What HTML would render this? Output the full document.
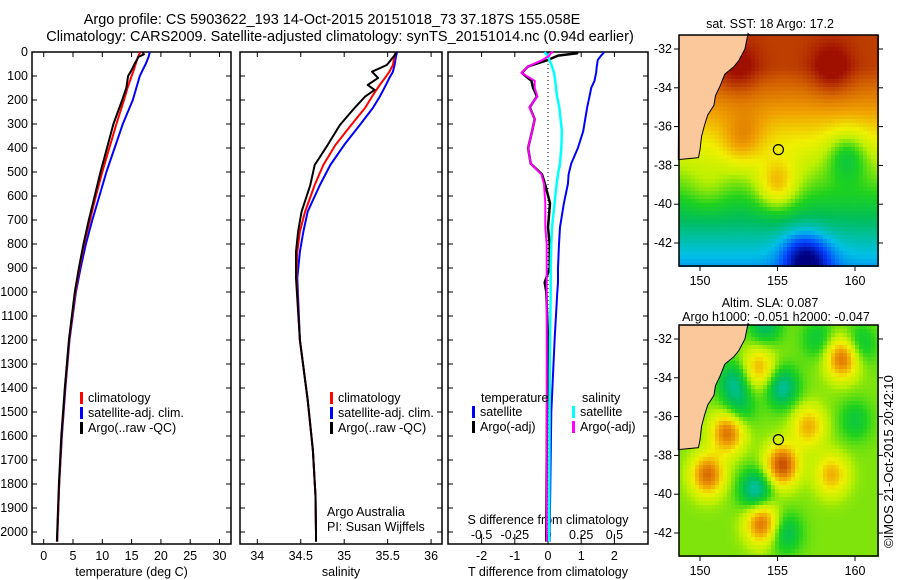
<!DOCTYPE html>
<html><head><meta charset="utf-8"><style>
body{margin:0;background:#fff;}
svg{display:block;font-family:"Liberation Sans",sans-serif;}
</style></head><body>
<svg id="chart" width="900" height="580" viewBox="0 0 900 580">
<g font-size="14.5" text-anchor="middle">
<text x="332" y="24">Argo profile: CS 5903622_193 14-Oct-2015 20151018_73 37.187S 155.058E</text>
<text x="340" y="41">Climatology: CARS2009. Satellite-adjusted climatology: synTS_20151014.nc (0.94d earlier)</text>
</g>
<g id="p1"></g>
<g id="p2"></g>
<g id="p3"></g>
<g id="m1"></g>
<g id="m2"></g>
<text x="0" y="0" font-size="13" transform="translate(893,548) rotate(-90)">©IMOS 21-Oct-2015 20:42:10</text>
</svg>
<script>
// ---- profile data ----
const depthT = [0,10,20,50,80,100,150,200,300,400,500,600,700,800,900,1000,1200,1400,1600,1800,2000,2040];
const argoT  = [16.9,17.1,16.2,15.5,14.9,14.4,14.1,13.4,11.9,10.8,9.7,8.7,7.7,6.8,6.0,5.3,4.3,3.6,3.0,2.6,2.3,2.25];
const climT  = [16.5,16.3,16.1,15.7,15.3,15.0,14.3,13.7,12.4,11.2,10.0,8.9,7.9,6.9,6.1,5.4,4.35,3.65,3.05,2.65,2.35,2.3];
const satT   = [18.1,18.0,17.9,17.4,16.8,16.4,15.8,15.2,13.5,12.1,10.7,9.5,8.3,7.2,6.3,5.5,4.4,3.7,3.1,2.65,2.35,2.3];
const depthS = [0,12,54,82,108,137,158,186,233,304,387,471,554,665,748,832,942,1200,1450,1660,1850,2000,2040];
const argoS  = [35.6,35.585,35.49,35.32,35.39,35.27,35.35,35.24,35.12,34.95,34.81,34.66,34.61,34.51,34.47,34.445,34.445,34.49,34.58,34.64,34.67,34.675,34.675];
const climS  = [35.6,35.58,35.56,35.52,35.47,35.41,35.37,35.32,35.24,35.08,34.9,34.76,34.66,34.55,34.49,34.46,34.45,34.49,34.58,34.64,34.67,34.675,34.675];
const satS   = [35.61,35.6,35.58,35.56,35.52,35.48,35.45,35.41,35.33,35.18,35.0,34.84,34.72,34.58,34.53,34.49,34.46,34.49,34.58,34.64,34.67,34.675,34.675];
const depthD = [0,5,15,33,60,87,120,150,185,230,280,330,400,465,510,550,630,730,800,900,960,1000,1200,1500,2000,2040];
const satDT  = [1.67,1.67,1.6,1.5,1.47,1.45,1.4,1.3,1.25,1.18,1.12,1.06,0.9,0.7,0.62,0.6,0.48,0.36,0.33,0.3,0.3,0.28,0.2,0.1,0.05,0.05];
const argoDT = [0.88,0.88,0.3,0,-0.6,-0.79,-0.5,-0.45,-0.33,-0.55,-0.4,-0.48,-0.6,-0.52,-0.18,-0.09,0.06,0,0.05,0.05,-0.1,-0.05,0,-0.03,-0.05,-0.05];
const satDS  = [-0.025,-0.02,0,0.01,0.03,0.045,0.055,0.06,0.068,0.085,0.095,0.105,0.1,0.09,0.075,0.065,0.05,0.03,0.025,0.02,0.02,0.02,0.015,0.012,0.008,0.008];
const argoDS = [0.04,0.02,0.01,-0.04,-0.15,-0.2,-0.1,-0.1,-0.08,-0.14,-0.1,-0.12,-0.15,-0.13,-0.05,-0.03,-0.02,-0.02,-0.01,-0.01,-0.01,-0.01,-0.01,-0.01,-0.01,-0.01];
const depthTicks = [0,100,200,300,400,500,600,700,800,900,1000,1100,1200,1300,1400,1500,1600,1700,1800,1900,2000];
const tTicks = [0,5,10,15,20,25,30];
const sTicks = [34,34.5,35,35.5,36];
const dtTicks = [-2,-1,0,1,2];
const dsTicks = [-0.5,-0.25,0,0.25,0.5];
const dsTickLabels = ["-0.5","-0.25","0","0.25","0.5"];
// ---- map data ----
const sstBlobLon = [155,156.5,159.5,152.5,158.5,150.5,157.5,153,152.5];
const sstBlobLat = [-39,-42.8,-37.5,-33,-33,-39.2,-43,-36.5,-37];
const sstBlobAmp = [0.2,-0.22,-0.16,0.1,0.12,0.05,-0.15,0.07,0.06];
const slaBlobLon = [151.8,155.3,150.5,154,159.2,153.8,157,158.5,152.2,155.3,153.6,155.5,160.3,154.2,152.5,160,157.6];
const slaBlobLat = [-36.8,-38.5,-39,-41.5,-33,-33.5,-36.5,-39,-34.2,-34.5,-39.8,-42,-32.3,-31.2,-35.6,-36.2,-32];
const slaBlobAmp = [0.3,0.35,0.3,0.3,0.3,0.2,0.2,0.2,-0.17,-0.2,-0.22,-0.14,-0.12,-0.16,-0.12,-0.1,-0.1];

const NS="http://www.w3.org/2000/svg";
function mk(tag,attrs,parent){const e=document.createElementNS(NS,tag);for(const k in attrs)e.setAttribute(k,attrs[k]);parent.appendChild(e);return e;}
const Y0=52, Yk=0.24, BOT=544;
const yD=d=>Y0+d*Yk;

function panel(g,x0,x1,xfun,ticks,labels,xlabel,showDepth){
  const r=mk('rect',{x:x0,y:Y0,width:x1-x0,height:BOT-Y0,fill:'none',stroke:'#000','stroke-width':1.5},g);
  
  
  ticks.forEach((t,i)=>{const x=xfun(t);
    const l=mk('line',{x1:x,x2:x,y1:BOT,y2:BOT-5,stroke:'#000'},g);
    
    
    const l2=mk('line',{x1:x,x2:x,y1:Y0,y2:Y0+5,stroke:'#000'},g);
    
    
    const tx=mk('text',{x:x,y:BOT+16,'font-size':12.5,'text-anchor':'middle'},g);tx.textContent=labels?labels[i]:t;
    
    });
  depthTicks.forEach(d=>{const y=yD(d);
    const l=mk('line',{x1:x0,x2:x0+5,y1:y,y2:y,stroke:'#000'},g);
    
    
    const l2=mk('line',{x1:x1,x2:x1-5,y1:y,y2:y,stroke:'#000'},g);
    
    
    if(showDepth){const tx=mk('text',{x:x0-4,y:y+4,'font-size':12.5,'text-anchor':'end'},g);tx.textContent=d;
      
      }});
  const xl=mk('text',{x:(x0+x1)/2,y:576,'font-size':12.5,'text-anchor':'middle'},g);xl.textContent=xlabel;
  
  
}
function line(g,xs,ds,xfun,color,w,name){
  const p=xs.map((v,i)=>(i?'L':'M')+xfun(v).toFixed(1)+','+yD(ds[i]).toFixed(1)).join('');
  const e=mk('path',{d:p,fill:'none',stroke:color,'stroke-width':w,'stroke-linejoin':'round'},g);
  
  
}
function legend(g,x,y,items){
  items.forEach((it,i)=>{
    const b=mk('rect',{x:x,y:y+i*15-10,width:3,height:12,fill:it[0]},g);
    
    
    const t=mk('text',{x:x+8,y:y+i*15,'font-size':12.5},g);t.textContent=it[1];
    
    });
}
// Panel 1
const p1=document.getElementById('p1');
const xT=v=>43.7+v*5.86;
panel(p1,32,231,xT,tTicks,null,'temperature (deg C)',true);
line(p1,satT,depthT,xT,'#0000ff',2,'satellite-temperature-line');
line(p1,climT,depthT,xT,'#ff0000',2,'climatology-temperature-line');
line(p1,argoT,depthT,xT,'#000',2,'argo-temperature-line');
legend(p1,80,402,[['#ff0000','climatology'],['#0000ff','satellite-adj. clim.'],['#000','Argo(..raw -QC)']]);
// Panel 2
const p2=document.getElementById('p2');
const xS=v=>257.3+(v-34)*86.9;
panel(p2,240,442,xS,sTicks,null,'salinity',false);
line(p2,satS,depthS,xS,'#0000ff',2,'satellite-salinity-line');
line(p2,climS,depthS,xS,'#ff0000',2,'climatology-salinity-line');
line(p2,argoS,depthS,xS,'#000',2,'argo-salinity-line');
legend(p2,330,402,[['#ff0000','climatology'],['#0000ff','satellite-adj. clim.'],['#000','Argo(..raw -QC)']]);
let t=mk('text',{x:327,y:516,'font-size':12.5},p2);t.textContent='Argo Australia';


t=mk('text',{x:327,y:531,'font-size':12.5},p2);t.textContent='PI: Susan Wijffels';


// Panel 3
const p3=document.getElementById('p3');
const xDT=v=>548+v*33.2;
const xDS=v=>548+v*4*33.2;
panel(p3,448,648,xDT,dtTicks,null,'T difference from climatology',false);
dsTicks.forEach((s,i)=>{const x=xDS(s);
  const l=mk('line',{x1:x,x2:x,y1:BOT-5,y2:BOT-10,stroke:'#000'},p3);
  
  
  const tx=mk('text',{x:x,y:539,'font-size':12.5,'text-anchor':'middle'},p3);tx.textContent=dsTickLabels[i];
  
  });
t=mk('text',{x:548,y:524,'font-size':12.5,'text-anchor':'middle'},p3);t.textContent='S difference from climatology';


const z=mk('line',{x1:548,x2:548,y1:Y0,y2:BOT,stroke:'#000','stroke-dasharray':'1,3'},p3);


line(p3,satDT,depthD,xDT,'#0000ff',2,'satellite-t-diff-line');
line(p3,argoDT,depthD,xDT,'#000',2.5,'argo-t-diff-line');
line(p3,satDS,depthD,xDS,'#00ffff',2.5,'satellite-s-diff-line');
line(p3,argoDS,depthD,xDS,'#ff00ff',2,'argo-s-diff-line');
t=mk('text',{x:481,y:402,'font-size':12.5},p3);t.textContent='temperature';


t=mk('text',{x:582,y:402,'font-size':12.5},p3);t.textContent='salinity';


legend(p3,472,416,[['#0000ff','satellite'],['#000','Argo(-adj)']]);
legend(p3,572,416,[['#00ffff','satellite'],['#ff00ff','Argo(-adj)']]);

// ---- maps ----
const stops=[[0,[0,0,128]],[0.15,[0,64,255]],[0.3,[0,192,230]],[0.42,[0,190,90]],[0.5,[30,210,30]],[0.6,[190,240,0]],[0.68,[240,240,0]],[0.78,[240,160,0]],[0.88,[210,96,0]],[1,[160,16,0]]];
function cmap(v){v=Math.max(0,Math.min(1,v));for(let i=1;i<stops.length;i++){if(v<=stops[i][0]){const a=stops[i-1],b=stops[i],f=(v-a[0])/(b[0]-a[0]);return 'rgb('+a[1].map((c,k)=>Math.round(c+(b[1][k]-c)*f)).join(',')+')';}}return 'rgb(160,16,0)';}
function map(g,top,title1,title2,field){
  const x0=679,x1=878,y1=top+231;
  const lx=lon=>700+(lon-150)*15.5;
  const ly=lat=>top+14+(-32-lat)*19.4;
  const cell=4;
  for(let y=top;y<y1;y+=cell)for(let x=x0;x<x1;x+=cell){
    const lon=150+(x+2-700)/15.5,lat=-32-(y+2-top-14)/19.4;
    const c=mk('rect',{x:x,y:y,width:cell,height:cell,fill:cmap(field(lon,lat))},g);
    
    
  }
  const coast=[[153.1,-31.2],[152.9,-32.0],[152.5,-32.6],[152.2,-32.9],[151.6,-33.3],[151.3,-33.9],[151.0,-34.4],[150.9,-34.9],[150.5,-35.4],[150.3,-35.9],[150.1,-36.5],[150.0,-37.2],[149.9,-37.6],[148.6,-37.7]];
  const pts=coast.map(p=>lx(p[0])+','+ly(p[1])).join(' ')+' '+x0+','+top+' '+lx(153.2)+','+top;
  const land=mk('polygon',{points:pts,fill:'#fac89b',stroke:'#000','stroke-width':1},g);
  
  
  const fr=mk('rect',{x:x0,y:top,width:x1-x0,height:y1-top,fill:'none',stroke:'#000','stroke-width':1.5},g);
  
  
  const pt=mk('circle',{cx:lx(155.058),cy:ly(-37.187),r:5,fill:cmap(field(155.06,-37.19)),stroke:'#000','stroke-width':1.2},g);
  
  
  [150,155,160].forEach(l=>{const x=lx(l);
    const tk=mk('line',{x1:x,x2:x,y1:y1,y2:y1+5,stroke:'#000'},g);
    
    
    const tx=mk('text',{x:x,y:y1+19,'font-size':12.5,'text-anchor':'middle'},g);tx.textContent=l;
    
    });
  [-32,-34,-36,-38,-40,-42].forEach(l=>{const y=ly(l);
    const tk=mk('line',{x1:x0-5,x2:x0,y1:y,y2:y,stroke:'#000'},g);
    
    
    const tk2=mk('line',{x1:x1,x2:x1+5,y1:y,y2:y,stroke:'#000'},g);
    
    
    const tx=mk('text',{x:x0-7,y:y+4,'font-size':12.5,'text-anchor':'end'},g);tx.textContent=l;
    
    });
  let a=mk('text',{x:770,y:top-(title2?18:7),'font-size':12.5,'text-anchor':'middle'},g);a.textContent=title1;
  
  
  if(title2){a=mk('text',{x:776,y:top-4,'font-size':12.5,'text-anchor':'middle'},g);a.textContent=title2;
    
    }
}
function blobs(lons,lats,amps,lon,lat,s){let v=0;for(let i=0;i<lons.length;i++){const dx=(lon-lons[i])/s,dy=(lat-lats[i])/s;v+=amps[i]*Math.exp(-(dx*dx+dy*dy));}return v;}
map(document.getElementById('m1'),35,'sat. SST: 18 Argo: 17.2',null,(lon,lat)=>{
  let b=0.47+0.065*(lat+40);b=Math.min(b,0.93);
  return b+blobs(sstBlobLon,sstBlobLat,sstBlobAmp,lon,lat,1.3);});
map(document.getElementById('m2'),325,'Altim. SLA: 0.087','Argo h1000: -0.051 h2000: -0.047',(lon,lat)=>{
  return 0.56+blobs(slaBlobLon,slaBlobLat,slaBlobAmp,lon,lat,1.05);});
</script>
</body></html>
